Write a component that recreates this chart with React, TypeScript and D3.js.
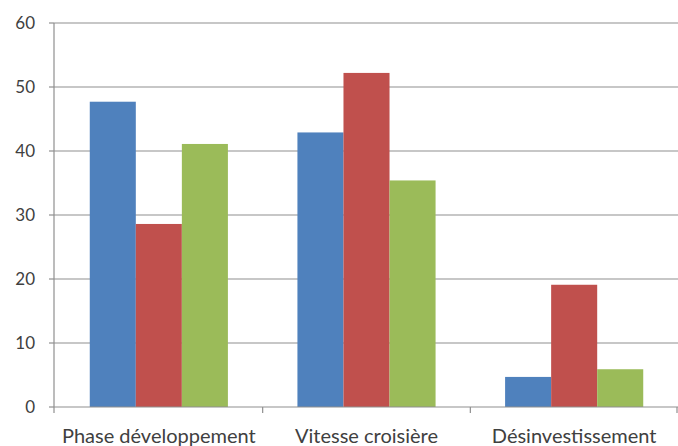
import React from "react";
import * as d3 from "d3";

const categories = ["Phase développement", "Vitesse croisière", "Désinvestissement"];
const seriesNames = ["Série 1", "Série 2", "Série 3"];
const series1 = [47.7, 42.9, 4.7];
const series2 = [28.6, 52.2, 19.1];
const series3 = [41.1, 35.4, 5.9];
const yTicks = [0, 10, 20, 30, 40, 50, 60];
const colors = ["#4F81BD", "#C0504D", "#9BBB59"];

const W = 678;
const H = 446;
const left = 55;
const right = 678;
const axisX = 54;
const top = 23;
const bottom = 407;

export default function App() {
  const allSeries = [series1, series2, series3];
  const x = d3.scaleBand<string>().domain(categories).range([left, right]).paddingInner(0).paddingOuter(0);
  const xs = d3.scaleBand<string>().domain(seriesNames).range([0, x.bandwidth()]).paddingInner(0).paddingOuter(0.755);
  const y = d3.scaleLinear().domain([0, 60]).range([bottom, top]);
  const font = "Lato, 'Open Sans', sans-serif";
  const textColor = "#404040";
  const boundaries = [...categories.map((c) => x(c) as number), right - 1];
  return (
    <svg width={W} height={H} style={{ position: "absolute", left: 0, top: 0, background: "#fff" }}>
      <rect x={0} y={0} width={W} height={H} fill="#fff" />
      {yTicks.map((t) => (
        <g key={t}>
          {t > 0 && <line x1={axisX} x2={right} y1={y(t)} y2={y(t)} stroke="#8f8f8f" strokeWidth={1.2} />}
          <line x1={axisX - 5} x2={axisX} y1={y(t)} y2={y(t)} stroke="#8f8f8f" strokeWidth={1.2} />
          <text x={35} y={y(t)} dy="0.36em" textAnchor="end" fontFamily={font} fontSize={17} fill={textColor}>
            {t}
          </text>
        </g>
      ))}
      {allSeries.map((vals, si) =>
        categories.map((c, ci) => (
          <rect
            key={`${si}-${ci}`}
            x={(x(c) as number) + (xs(seriesNames[si]) as number)}
            y={y(vals[ci])}
            width={xs.bandwidth()}
            height={y(0) - y(vals[ci])}
            fill={colors[si]}
          />
        ))
      )}
      <line x1={axisX} x2={axisX} y1={top} y2={bottom} stroke="#8f8f8f" strokeWidth={1.2} />
      <line x1={axisX} x2={right} y1={bottom} y2={bottom} stroke="#8f8f8f" strokeWidth={1.2} />
      {boundaries.map((b, i) => (
        <line key={i} x1={i === 0 ? axisX : b} x2={i === 0 ? axisX : b} y1={bottom} y2={bottom + 6} stroke="#8f8f8f" strokeWidth={1.2} />
      ))}
      {categories.map((c) => (
        <text
          key={c}
          x={(x(c) as number) + x.bandwidth() / 2}
          y={443}
          textAnchor="middle"
          fontFamily={font}
          fontSize={20}
          fill={textColor}
        >
          {c}
        </text>
      ))}
    </svg>
  );
}
